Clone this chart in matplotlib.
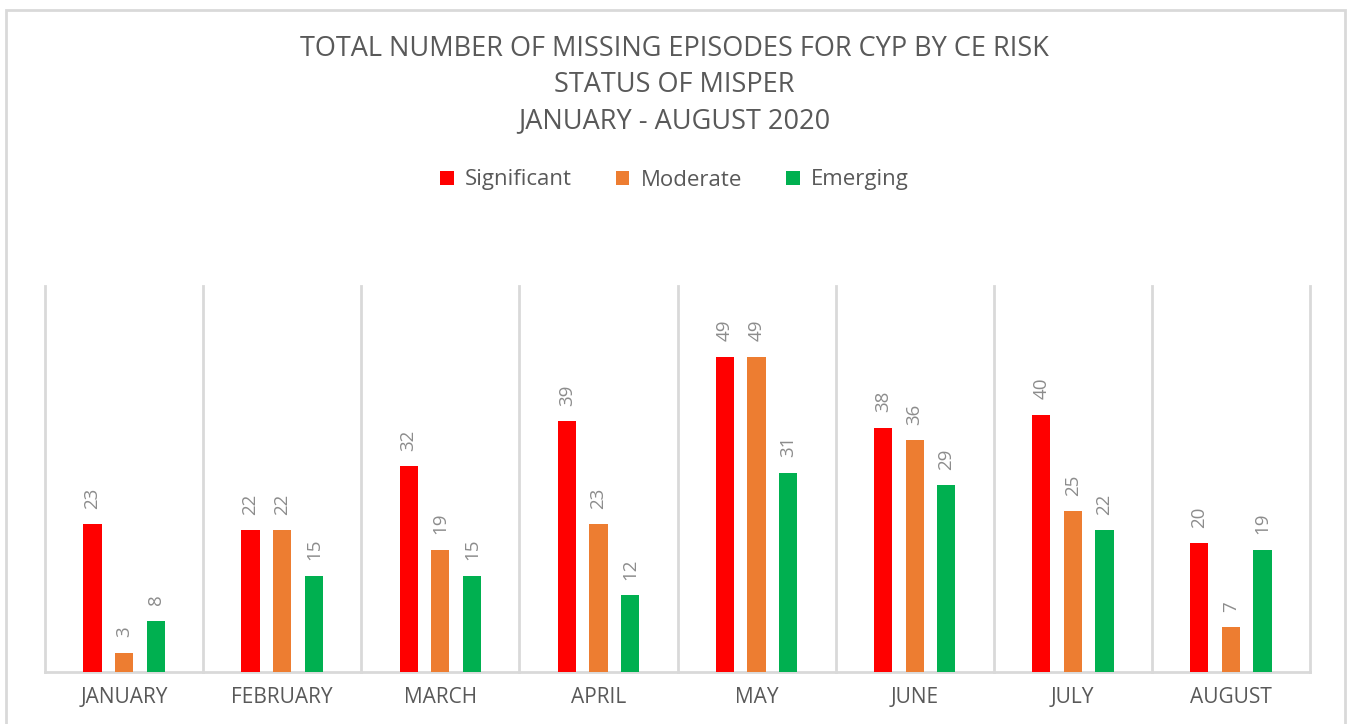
import numpy as np
import matplotlib.pyplot as plt
from matplotlib.patches import Rectangle


# ==============================
# Data
# ==============================

months = [
    "JANUARY", "FEBRUARY", "MARCH", "APRIL",
    "MAY", "JUNE", "JULY", "AUGUST"
]

significant = [23, 22, 32, 39, 49, 38, 40, 20]
moderate = [3, 22, 19, 23, 49, 36, 25, 7]
emerging = [8, 15, 15, 12, 31, 29, 22, 19]

series_names = ["Significant", "Moderate", "Emerging"]
series_colors = ["#ff0000", "#ed7d31", "#00b050"]

title_text = (
    "TOTAL NUMBER OF MISSING EPISODES FOR CYP BY CE RISK\n"
    "STATUS OF MISPER\n"
    "JANUARY - AUGUST 2020"
)


# ==============================
# Figure
# ==============================

plt.rcParams["font.family"] = ["Open Sans", "DejaVu Sans"]

fig = plt.figure(figsize=(13.49, 7.24), dpi=100)

W, H = 1349, 724

ax = fig.add_axes([
    45 / W,
    1 - 672 / H,
    (1310 - 45) / W,
    (672 - 286) / H
])

# chart border
fig.patches.append(
    Rectangle(
        (6 / W, -0.05),
        (1345 - 6) / W,
        1 - 10 / H + 0.05,
        transform=fig.transFigure,
        fill=False,
        edgecolor="#d9d9d9",
        linewidth=2
    )
)

x = np.arange(len(months))
offsets = [-0.2, 0.0, 0.2]
bar_w = 0.115

all_series = [significant, moderate, emerging]

for vals, off, name, col in zip(all_series, offsets, series_names, series_colors):
    bars = ax.bar(x + off, vals, width=bar_w, color=col, label=name, zorder=3)
    for rect, v in zip(bars, vals):
        ax.annotate(
            str(v),
            (rect.get_x() + rect.get_width() / 2, rect.get_height()),
            xytext=(0, 11),
            textcoords="offset points",
            rotation=90,
            ha="center",
            va="bottom",
            fontsize=13.5,
            color="#8c8c8c"
        )

ax.set_xlim(-0.5, len(months) - 0.5)
ax.set_ylim(0, 60)

# category separators
for b in np.arange(-0.5, len(months), 1.0):
    ax.axvline(b, color="#d9d9d9", linewidth=2, zorder=1, clip_on=False)

for s in ax.spines.values():
    s.set_visible(False)
ax.axhline(0, color="#d9d9d9", linewidth=2, zorder=2, clip_on=False)

ax.set_yticks([])
ax.set_xticks(x)
ax.set_xticklabels(months, fontsize=15, color="#595959")
ax.tick_params(axis="x", length=0, pad=11)

fig.text(
    0.5, 1 - 85 / H,
    title_text,
    ha="center",
    va="center",
    fontsize=19.5,
    color="#595959",
    linespacing=1.38
)

fig.legend(
    loc="center",
    bbox_to_anchor=(0.5, 1 - 180 / H),
    ncol=3,
    frameon=False,
    fontsize=16,
    labelcolor="#595959",
    handlelength=0.6,
    handleheight=0.6,
    handletextpad=0.5,
    columnspacing=2.0
)

fig.savefig("out.png", dpi=100)
